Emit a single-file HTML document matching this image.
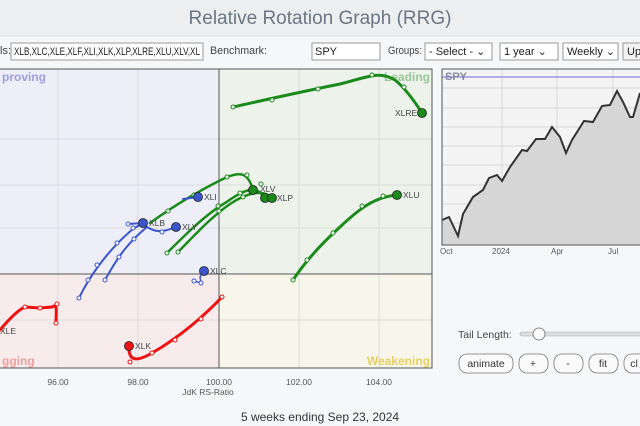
<!DOCTYPE html>
<html><head><meta charset="utf-8"><style>
body{margin:0;width:640px;height:426px;background:#f6f7f9;font-family:"Liberation Sans",sans-serif;overflow:hidden;position:relative}
</style></head><body>
<svg width="640" height="426" style="position:absolute;left:0;top:0" font-family="Liberation Sans, sans-serif">
<rect x="0" y="0" width="640" height="36" fill="#eceef0"/>
<line x1="0" y1="36" x2="640" y2="36" stroke="#dde0e3"/>
<text x="320" y="24" text-anchor="middle" font-size="19" fill="#6b7784">Relative Rotation Graph (RRG)</text>
<text x="0" y="54" font-size="11" fill="#444">ls:</text>
<rect x="11" y="43" width="192" height="17" fill="#fff" stroke="#999"/>
<text x="14" y="55" font-size="11" fill="#222" textLength="186" lengthAdjust="spacingAndGlyphs">XLB,XLC,XLE,XLF,XLI,XLK,XLP,XLRE,XLU,XLV,XL</text>
<text x="210" y="54" font-size="11" fill="#444" textLength="57" lengthAdjust="spacingAndGlyphs">Benchmark:</text>
<rect x="312" y="43" width="68" height="17" fill="#fff" stroke="#999"/>
<text x="315" y="55" font-size="11" fill="#222">SPY</text>
<text x="388" y="54" font-size="11" fill="#444" textLength="34" lengthAdjust="spacingAndGlyphs">Groups:</text>
<rect x="425" y="43" width="67" height="17" fill="#fff" stroke="#999"/>
<text x="429" y="55" font-size="11" fill="#222">- Select -   ⌄</text>
<rect x="500" y="43" width="58" height="17" fill="#fff" stroke="#999"/>
<text x="504" y="55" font-size="11" fill="#222">1 year     ⌄</text>
<rect x="563" y="43" width="55" height="17" fill="#fff" stroke="#999"/>
<text x="567" y="55" font-size="11" fill="#222">Weekly ⌄</text>
<rect x="623" y="43" width="30" height="17" fill="#f2f2f2" stroke="#999"/>
<text x="627" y="55" font-size="11" fill="#222">Up</text>
<rect x="0" y="69" width="219" height="205" fill="#eeeef8"/>
<rect x="219" y="69" width="213" height="205" fill="#edf3ea"/>
<rect x="0" y="274" width="219" height="94" fill="#f8ebeb"/>
<rect x="219" y="274" width="213" height="94" fill="#f8f6ea"/>
<g stroke="#dcdcdc" stroke-width="1">
<line x1="58" y1="69" x2="58" y2="368"/><line x1="138" y1="69" x2="138" y2="368"/><line x1="299" y1="69" x2="299" y2="368"/><line x1="379" y1="69" x2="379" y2="368"/>
<line x1="0" y1="139" x2="432" y2="139"/><line x1="0" y1="185" x2="432" y2="185"/><line x1="0" y1="228" x2="432" y2="228"/><line x1="0" y1="320" x2="432" y2="320"/>
</g>
<line x1="219" y1="69" x2="219" y2="368" stroke="#555"/>
<line x1="0" y1="274" x2="432" y2="274" stroke="#555"/>
<rect x="-1" y="69" width="433" height="299" fill="none" stroke="#555"/>
<text x="2" y="81" font-size="12" font-weight="bold" fill="#9aa0e0">proving</text>
<text x="430" y="81" font-size="12" font-weight="bold" fill="#9cc79c" text-anchor="end">Leading</text>
<text x="2" y="365" font-size="12" font-weight="bold" fill="#f0a0a0">gging</text>
<text x="430" y="365" font-size="12" font-weight="bold" fill="#e8d060" text-anchor="end">Weakening</text>
<g font-size="8.5" fill="#555" text-anchor="middle">
<text x="58" y="385">96.00</text><text x="138" y="385">98.00</text><text x="219" y="385">100.00</text><text x="299" y="385">102.00</text><text x="379" y="385">104.00</text>
<text x="208" y="395">JdK RS-Ratio</text></g>
<g fill="none" stroke-linecap="round">
<path d="M233,107 C260,101 300,92 340,84 C365,78 378,70 395,80 C405,88 415,102 422,113" stroke="#1a8a1a" stroke-width="3"/>
<path d="M293,280 C305,262 320,245 340,227 C360,208 375,197 397,195" stroke="#1a8a1a" stroke-width="3"/>
<path d="M150,223 C175,205 200,190 227,177 C240,172 248,172 253,190" stroke="#1a8a1a" stroke-width="2.5"/>
<path d="M167,253 C185,235 205,215 225,203 C240,193 255,182 265,198" stroke="#1a8a1a" stroke-width="2.5"/>
<path d="M178,252 C195,235 210,218 230,204 C245,194 262,188 272,198" stroke="#1a8a1a" stroke-width="2.5"/>
<path d="M183,199 L198,197" stroke="#3a55cc" stroke-width="2"/>
<path d="M79,298 C90,275 110,248 133,229 L143,223 M128,224 L143,223" stroke="#3a55cc" stroke-width="2"/>
<path d="M105,280 C115,262 125,245 147,227 C155,232 162,233 176,227" stroke="#3a55cc" stroke-width="2"/>
<path d="M194,281 L201,283 L200,277 L204,271" stroke="#3a55cc" stroke-width="1.5"/>
<path d="M0,330 C10,318 18,310 25,307 L40,308 L52,307 C58,303 56,312 56,323" stroke="#ee1111" stroke-width="3"/>
<path d="M222,297 C205,315 180,337 152,353 C140,360 128,364 129,346" stroke="#ee1111" stroke-width="3"/>
</g>
<g fill="#fff" stroke-width="1">
<g stroke="#1a8a1a"><circle cx="233" cy="107" r="2"/><circle cx="272" cy="100" r="2"/><circle cx="318" cy="89" r="2"/><circle cx="372" cy="75" r="2"/><circle cx="404" cy="87" r="2"/>
<circle cx="293" cy="280" r="2"/><circle cx="307" cy="260" r="2"/><circle cx="333" cy="233" r="2"/><circle cx="362" cy="206" r="2"/><circle cx="383" cy="196" r="2"/>
<circle cx="168" cy="211" r="2"/><circle cx="194" cy="195" r="2"/><circle cx="227" cy="177" r="2"/><circle cx="247" cy="175" r="2"/>
<circle cx="167" cy="253" r="2"/><circle cx="218" cy="206" r="2"/><circle cx="240" cy="193" r="2"/><circle cx="261" cy="184" r="2"/>
<circle cx="178" cy="252" r="2"/><circle cx="219" cy="211" r="2"/><circle cx="243" cy="197" r="2"/></g>
<g stroke="#3a55cc"><circle cx="79" cy="298" r="2"/><circle cx="88" cy="280" r="2"/><circle cx="97" cy="265" r="2"/><circle cx="117" cy="243" r="2"/><circle cx="133" cy="228" r="2"/><circle cx="128" cy="224" r="2"/>
<circle cx="105" cy="280" r="2"/><circle cx="119" cy="257" r="2"/><circle cx="134" cy="239" r="2"/><circle cx="162" cy="232" r="2"/><circle cx="194" cy="281" r="2"/><circle cx="201" cy="283" r="2"/></g>
<g stroke="#ee1111"><circle cx="25" cy="307" r="2"/><circle cx="40" cy="308" r="2"/><circle cx="57" cy="304" r="2"/><circle cx="56" cy="323" r="2"/>
<circle cx="222" cy="297" r="2"/><circle cx="201" cy="319" r="2"/><circle cx="175" cy="340" r="2"/><circle cx="152" cy="353" r="2"/><circle cx="130" cy="362" r="2"/></g>
</g>
<g stroke="#222" stroke-width="0.8">
<circle cx="422" cy="113" r="4.5" fill="#1a8a1a"/><circle cx="397" cy="195" r="4.5" fill="#1a8a1a"/>
<circle cx="253" cy="190" r="4.5" fill="#1a8a1a"/><circle cx="265" cy="198" r="4.5" fill="#1a8a1a"/><circle cx="272" cy="198" r="4.5" fill="#1a8a1a"/>
<circle cx="198" cy="197" r="4.5" fill="#3a55cc"/><circle cx="143" cy="223" r="4.5" fill="#3a55cc"/><circle cx="176" cy="227" r="4.5" fill="#3a55cc"/><circle cx="204" cy="271" r="4.5" fill="#3a55cc"/>
<circle cx="129" cy="346" r="4.5" fill="#ee1111"/></g>
<g font-size="8.5" fill="#444">
<text x="395" y="116">XLRE</text><text x="403" y="198">XLU</text><text x="260" y="192">XLV</text><text x="277" y="201">XLP</text>
<text x="204" y="200">XLI</text><text x="149" y="226">XLB</text><text x="182" y="230">XLY</text><text x="210" y="274">XLC</text>
<text x="0" y="334">XLE</text><text x="135" y="349">XLK</text></g>
<rect x="442" y="69" width="210" height="176" fill="#f4f4f4" stroke="#555"/>
<g stroke="#d8d8d8"><line x1="442" y1="88" x2="640" y2="88"/><line x1="442" y1="108" x2="640" y2="108"/><line x1="442" y1="127" x2="640" y2="127"/><line x1="442" y1="146" x2="640" y2="146"/><line x1="442" y1="165" x2="640" y2="165"/><line x1="442" y1="185" x2="640" y2="185"/><line x1="442" y1="204" x2="640" y2="204"/><line x1="442" y1="223" x2="640" y2="223"/>
<line x1="502" y1="69" x2="502" y2="245"/><line x1="557" y1="69" x2="557" y2="245"/><line x1="613" y1="69" x2="613" y2="245"/></g>
<path d="M442,220 L449,217 L458,236 L463,214 L473,197 L483,190 L489,178 L497,175 L502,181 L510,167 L522,150 L527,151 L536,139 L545,139 L552,127 L560,137 L566,153 L572,140 L584,121 L593,122 L602,106 L610,105 L617,91 L623,102 L630,117 L633,117 L640,93 L640,245 L442,245 Z" fill="#d6d6d6"/>
<path d="M442,220 L449,217 L458,236 L463,214 L473,197 L483,190 L489,178 L497,175 L502,181 L510,167 L522,150 L527,151 L536,139 L545,139 L552,127 L560,137 L566,153 L572,140 L584,121 L593,122 L602,106 L610,105 L617,91 L623,102 L630,117 L633,117 L640,93" fill="none" stroke="#333" stroke-width="2"/>
<line x1="442" y1="77" x2="640" y2="77" stroke="#6a6ad0"/>
<text x="445" y="80" font-size="11" font-weight="bold" fill="#8888a0">SPY</text>
<rect x="442" y="69" width="210" height="176" fill="none" stroke="#555"/>
<g font-size="8" fill="#555"><text x="440" y="254">Oct</text><text x="492" y="254">2024</text><text x="551" y="254">Apr</text><text x="608" y="254">Jul</text></g>
<text x="458" y="338" font-size="10.5" fill="#444">Tail Length:</text>
<rect x="520" y="332" width="125" height="4" rx="2" fill="#ddd" stroke="#aaa" stroke-width="0.6"/>
<circle cx="539" cy="334" r="6" fill="#fafafa" stroke="#888"/>
<g fill="#fafafa" stroke="#777" stroke-width="0.8">
<rect x="459" y="354" width="54" height="19" rx="8"/><rect x="519" y="354" width="29" height="19" rx="8"/><rect x="554" y="354" width="29" height="19" rx="8"/><rect x="589" y="354" width="29" height="19" rx="8"/><rect x="624" y="354" width="30" height="19" rx="8"/></g>
<g font-size="10.5" fill="#333" text-anchor="middle"><text x="486" y="367">animate</text><text x="533" y="367">+</text><text x="568" y="367">-</text><text x="603" y="367">fit</text><text x="634" y="367">cl</text></g>
<text x="320" y="421" font-size="12" fill="#333" text-anchor="middle">5 weeks ending Sep 23, 2024</text>
</svg>
</body></html>
